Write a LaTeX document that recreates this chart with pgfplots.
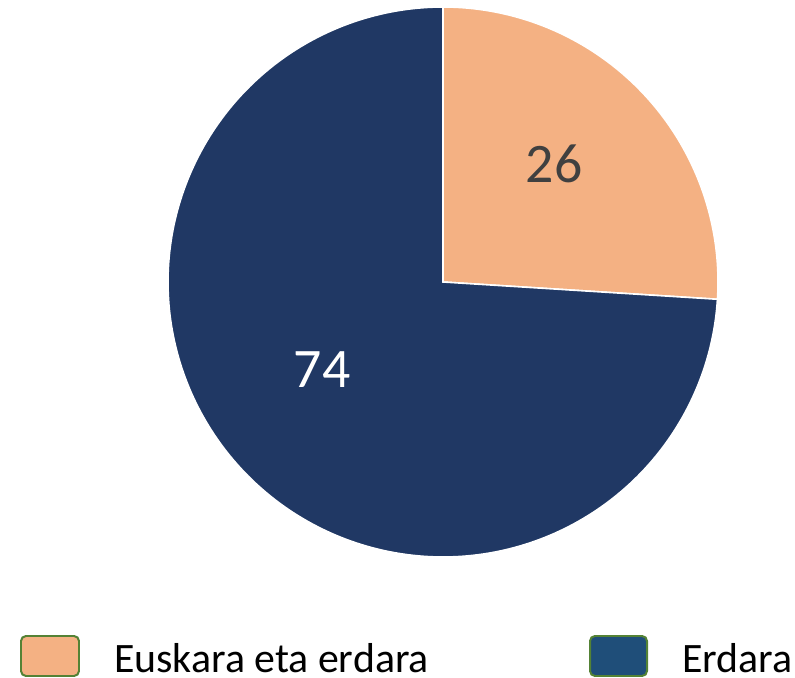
\documentclass[border=0pt]{standalone}
\usepackage{pgfplots}
\pgfplotsset{compat=1.18}
\usepackage{fontspec}
\setmainfont{Carlito}

\definecolor{pieorange}{HTML}{F4B183}
\definecolor{pienavy}{HTML}{203864}
\definecolor{legblue}{HTML}{1F4E79}
\definecolor{leggreen}{HTML}{548235}
\definecolor{labgray}{HTML}{404040}

% values of the two slices (percent)
\def\valA{26} % Euskara eta erdara
\def\valB{74} % Erdara

\begin{document}
\begin{tikzpicture}
\pgfmathsetmacro\angA{90-3.6*\valA}
\pgfmathsetmacro\angB{\angA-3.6*\valB}
\begin{axis}[
  scale only axis, width=795bp, height=678bp,
  xmin=0, xmax=795, ymin=0, ymax=678,
  hide axis, clip=false, anchor=south west, at={(0,0)},
]
% slices
\addplot[fill=pieorange, draw=white, line width=1.6pt, domain=\angA:90, samples=120]
  ({443+275*cos(x)}, {396+275*sin(x)}) -- (axis cs:443,396) -- cycle;
\addplot[fill=pienavy, draw=white, line width=1.6pt, domain=\angB:\angA, samples=240]
  ({443+275*cos(x)}, {396+275*sin(x)}) -- (axis cs:443,396) -- cycle;

% slice labels
\node[text=labgray, font=\fontsize{56}{60}\selectfont] at (axis cs:554,514) {\valA};
\node[text=white, font=\fontsize{56}{60}\selectfont] at (axis cs:322,308) {\valB};

% legend
\draw[fill=pieorange, draw=leggreen, line width=2pt, rounded corners=5pt]
  (axis cs:21,2) rectangle (axis cs:79,42);
\node[anchor=base west, inner sep=0pt, font=\fontsize{42}{48}\selectfont]
  at (axis cs:114,6) {Euskara eta erdara};
\draw[fill=legblue, draw=leggreen, line width=2pt, rounded corners=5pt]
  (axis cs:590,2) rectangle (axis cs:647,42);
\node[anchor=base west, inner sep=0pt, font=\fontsize{42}{48}\selectfont]
  at (axis cs:682,6) {Erdara};
\end{axis}
\pgfresetboundingbox
\path (0,0) rectangle (795bp,678bp);
\end{tikzpicture}
\end{document}
